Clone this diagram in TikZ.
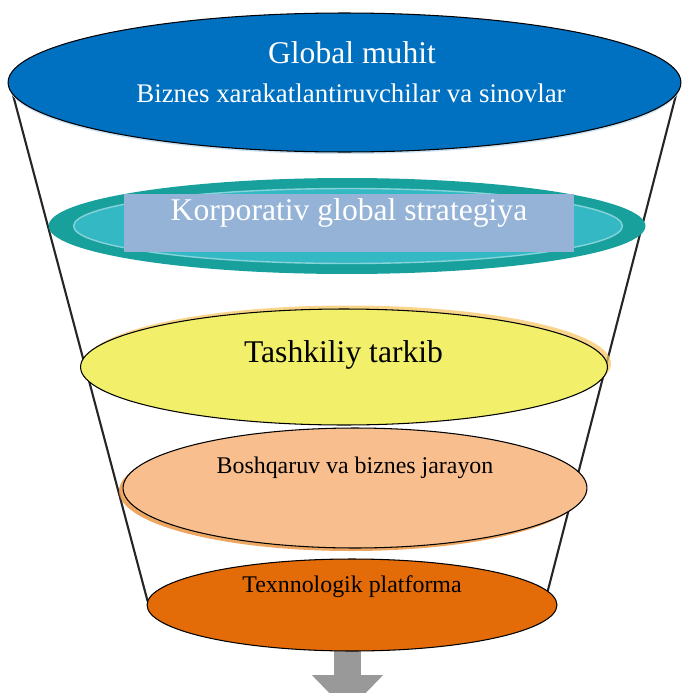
\documentclass[tikz,border=0pt]{standalone}
\usepackage{fontspec}
\setmainfont{Liberation Serif}
\usetikzlibrary{arrows.meta,shapes.geometric,backgrounds}
\definecolor{globalblue}{HTML}{0070C0}
\definecolor{tealdark}{HTML}{18A09C}
\definecolor{teallight}{HTML}{34B8C4}
\definecolor{tealrim}{HTML}{86D4DA}
\definecolor{stratfill}{HTML}{95B3D7}
\definecolor{orgyellow}{HTML}{F2EF6A}
\definecolor{orgglow}{HTML}{F7C35A}
\definecolor{procpeach}{HTML}{F8BE8E}
\definecolor{procglow}{HTML}{E8913C}
\definecolor{techorange}{HTML}{E36C09}
\definecolor{arrowgray}{HTML}{999999}

\begin{document}
\begin{tikzpicture}[x=0.02cm,y=-0.02cm,
  tier/.style={ellipse,draw=black,line width=0.6pt,inner sep=0pt,outer sep=0pt},
  bigtext/.style={font=\fontsize{18}{22}\selectfont},
  smalltext/.style={font=\fontsize{13.6}{16}\selectfont,text=black},
  funnel/.style={black!85,line width=1.2pt}]
  \useasboundingbox (0,0) rectangle (687,693);

  % Global environment
  \fill[globalblue!20] (344.5,85) ellipse (336 and 69);
  \node[tier,fill=globalblue,minimum width=13.46cm,minimum height=2.78cm] (global) at (344.5,82.5) {};
  \node[bigtext,text=white] (globaltitle) at (352,53) {Global muhit};
  \node[font=\fontsize{15.3}{18}\selectfont,text=white] (globalsub) at (351,93) {Biznes xarakatlantiruvchilar va sinovlar};

  % Corporate strategy ring
  \node[ellipse,fill=tealdark,inner sep=0pt,outer sep=0pt,minimum width=11.94cm,minimum height=1.92cm] (strat) at (347,226) {};
  \node[ellipse,fill=teallight,draw=tealrim,line width=0.8pt,inner sep=0pt,minimum width=10.98cm,minimum height=1.5cm] (stratinner) at (348,226) {};
  \node[fill=stratfill,inner sep=0pt,minimum width=9cm,minimum height=1.16cm] (stratbox) at (349,223) {};
  \node[bigtext,text=white] (strattxt) at (349,213) {Korporativ global strategiya};

  % Organisational structure
  \fill[orgglow,opacity=0.7] (348,363.5) ellipse (263 and 58);
  \node[tier,fill=orgyellow,minimum width=10.54cm,minimum height=2.32cm] (org) at (344,367) {};
  \node[bigtext,text=black] (orgtxt) at (343.5,355) {Tashkiliy tarkib};

  % Management and processes
  \fill[procglow,opacity=0.8] (351,491) ellipse (232 and 60);
  \node[tier,fill=procpeach,minimum width=9.28cm,minimum height=2.4cm] (proc) at (355,488) {};
  \node[smalltext] (proctxt) at (355,468) {Boshqaruv va biznes jarayon};

  % Technology platform
  \node[tier,fill=techorange,minimum width=8.2cm,minimum height=1.84cm] (tech) at (352,605) {};
  \node[smalltext] (techtxt) at (352,587) {Texnnologik platforma};

  \coordinate (flowout) at (347.5,712);

  \begin{scope}[on background layer]
    % funnel sides
    \draw[funnel] (global.182) -- (tech.179);
    \draw[funnel] (global.358) -- (tech.4);
    % outflow arrow
    \draw[arrowgray,line width=0.54cm,-{Triangle[width=1.38cm,length=0.74cm]}] (flowout |- tech.center) -- (flowout);
  \end{scope}
\end{tikzpicture}
\end{document}
